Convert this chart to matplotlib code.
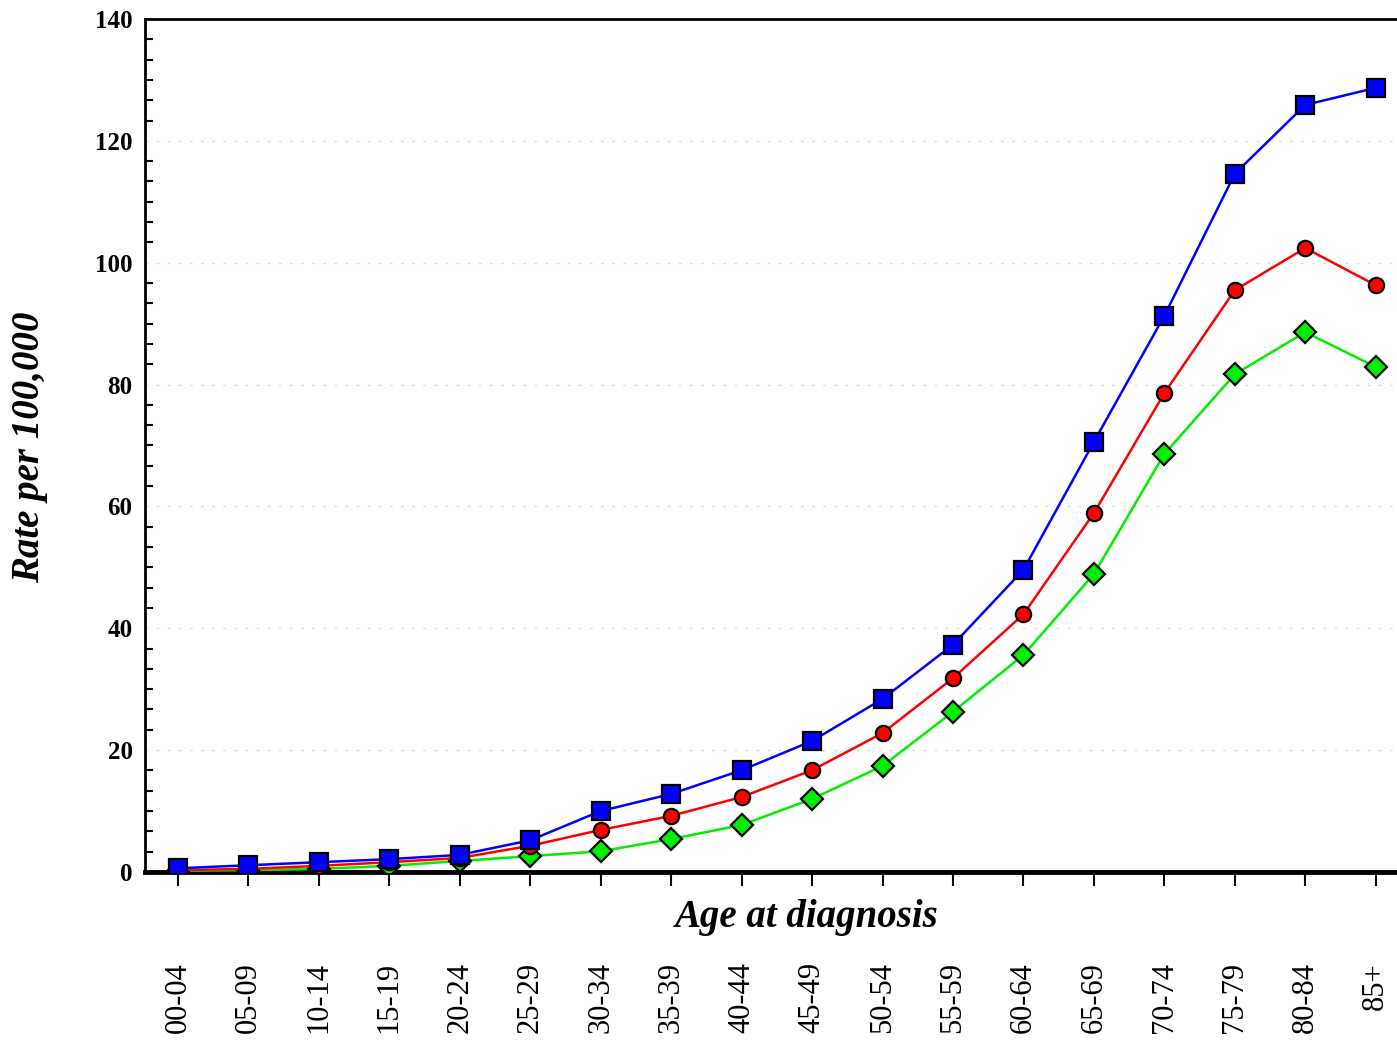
import numpy as np
import matplotlib.pyplot as plt
from matplotlib.ticker import MultipleLocator

age_groups = ["00-04", "05-09", "10-14", "15-19", "20-24", "25-29", "30-34", "35-39",
              "40-44", "45-49", "50-54", "55-59", "60-64", "65-69", "70-74", "75-79",
              "80-84", "85+"]

blue_rates = [0.6, 1.1, 1.6, 2.1, 2.8, 5.2, 10.0, 12.8, 16.7, 21.5, 28.4, 37.3,
              49.6, 70.6, 91.3, 114.6, 125.9, 128.7]
red_rates = [0.3, 0.5, 1.0, 1.6, 2.3, 4.3, 6.9, 9.2, 12.3, 16.7, 22.8, 31.8,
             42.3, 58.9, 78.6, 95.5, 102.4, 96.3]
green_rates = [0.2, 0.3, 0.5, 1.0, 1.8, 2.6, 3.4, 5.4, 7.7, 12.0, 17.4, 26.3,
               35.6, 48.9, 68.6, 81.7, 88.6, 82.9]

plt.rcParams['font.family'] = ['Liberation Serif', 'DejaVu Serif']

fig = plt.figure(figsize=(13.97, 10.44), dpi=100)
ax = fig.add_axes([0.1038, 0.1648, 0.8962 + 0.01, 0.817])

x = np.arange(len(age_groups))

ax.plot(x, green_rates, color='#00ee00', lw=1.8, marker='D', ms=11,
        mfc='#00ee00', mec='black', mew=1.6, zorder=3)
ax.plot(x, red_rates, color='#ff0000', lw=1.8, marker='o', ms=11,
        mfc='#ff0000', mec='black', mew=1.6, zorder=4)
ax.plot(x, blue_rates, color='#0000ff', lw=1.8, marker='s', ms=13,
        mfc='#0000ff', mec='black', mew=1.6, zorder=5)

ax.set_xlim(-0.468, 17.3 + 0.2)
ax.set_ylim(0, 140)

ax.yaxis.set_major_locator(MultipleLocator(20))
ax.yaxis.set_minor_locator(MultipleLocator(20 / 6))
ax.tick_params(axis='y', which='major', length=0, pad=9, labelsize=18)
ax.tick_params(axis='y', which='minor', direction='in', length=6, width=1.5)
for lab in ax.get_yticklabels():
    lab.set_fontweight('bold')

ax.set_xticks(x)
ax.set_xticklabels(age_groups, rotation=90, fontsize=22)
ax.tick_params(axis='x', direction='out', length=10, width=1.5, pad=55)

ax.yaxis.grid(True, linestyle=(0, (2, 6)), color='#dddddd', lw=1)

ax.spines['right'].set_visible(False)
ax.spines['top'].set_linewidth(2)
ax.spines['left'].set_linewidth(2)
ax.spines['bottom'].set_linewidth(3.5)

fig.text(0.577, 0.1207, "Age at diagnosis", ha='center', va='center',
         fontsize=28, fontweight='bold', style='italic')
fig.text(0.021, 0.572, "Rate per 100,000", ha='center', va='center',
         rotation=90, fontsize=28, fontweight='bold', style='italic')

fig.savefig("out.png", dpi=100)
